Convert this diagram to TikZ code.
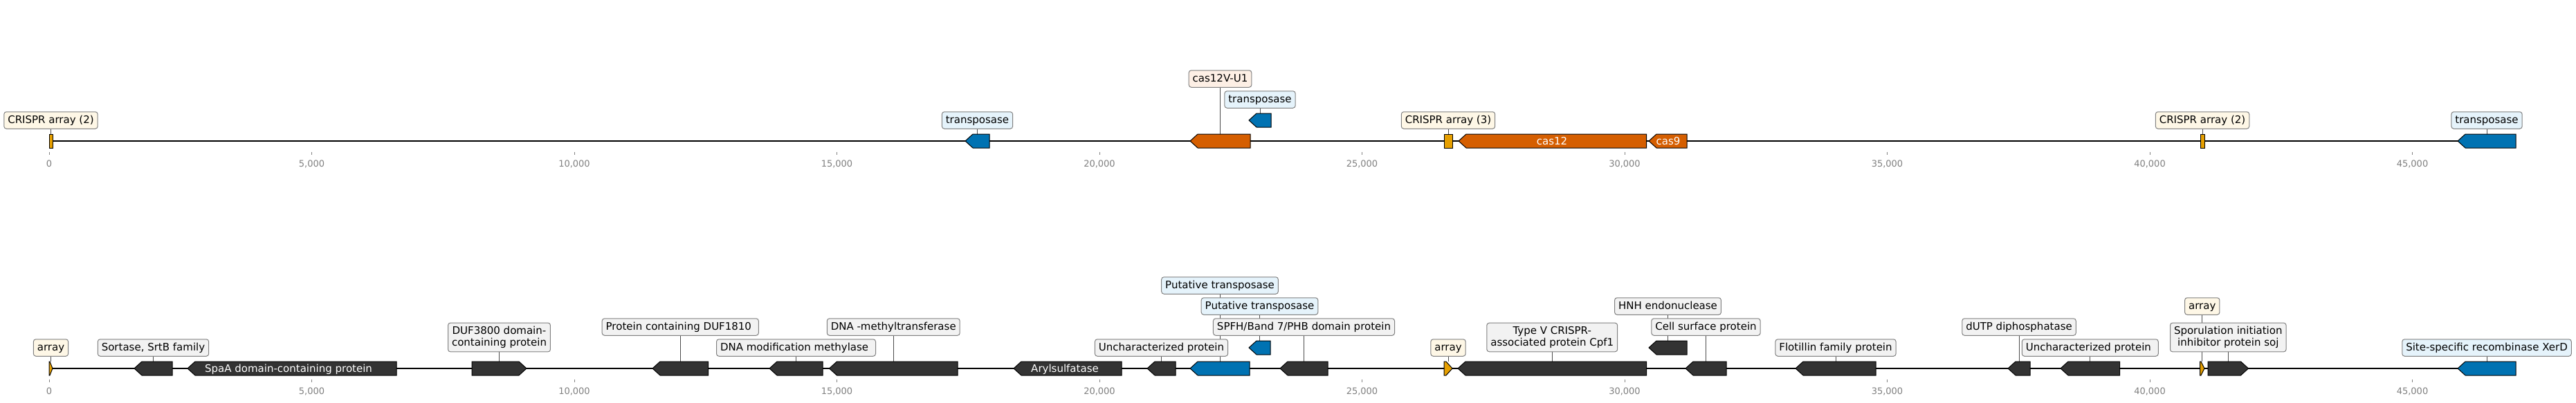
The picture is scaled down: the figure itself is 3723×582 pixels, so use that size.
\documentclass[tikz,border=0pt]{standalone}
\usepackage{fontspec}
\setmainfont{DejaVu Sans}
\usetikzlibrary{backgrounds}

\definecolor{crispr}{HTML}{E69F00}
\definecolor{casred}{HTML}{D55E00}
\definecolor{tnpblue}{HTML}{0072B2}
\definecolor{cds}{HTML}{333333}
\definecolor{crisprbg}{HTML}{FEF7E6}
\definecolor{casbg}{HTML}{FDEFE5}
\definecolor{tnpbg}{HTML}{E5F3FB}
\definecolor{cdsbg}{HTML}{F2F2F2}
\definecolor{tickgray}{HTML}{808080}

\newcommand{\lsp}{\hspace{4.8pt}}

\tikzset{
  lblbase/.style={draw=black!50, line width=1pt, rounded corners=3.5pt, inner xsep=5.5pt,
    font=\fontsize{15}{16.7}\selectfont, anchor=center},
  lbl/.style={lblbase, inner ysep=5pt, text height=12.2pt, text depth=2.3pt},
  lbltwo/.style={lblbase, inner ysep=5.3pt, align=center},
  lead/.style={black!70, line width=0.9pt},
  gene/.style={draw=black, line width=1pt, line join=miter},
  genetext/.style={white, font=\fontsize{15}{17}\selectfont, anchor=base, inner sep=0pt},
  tickmark/.style={tickgray, line width=1pt},
  ticktext/.style={tickgray, font=\fontsize{13}{15}\selectfont, anchor=base, inner sep=0pt}
}

\begin{document}
\begin{tikzpicture}[x=1pt,y=1pt,yscale=-1,xscale=1]
\useasboundingbox (0,0) rectangle (3723,582);
\begin{pgfonlayer}{background}
\fill[white] (0,0) rectangle (3723,582);
\end{pgfonlayer}

%%%%%%%%%%%%%%%% top record %%%%%%%%%%%%%%%%
%Straight Lines [id:axis top]
\draw [line width=2.4pt]   (71,204) -- (3636,204) ;

%Shape: CRISPR array (2)
\draw [gene, fill=crispr]  (71,194) -- (76,194) -- (76,214) -- (71,214) -- cycle ;
%Shape: transposase
\draw [gene, fill=tnpblue]  (1395,204) -- (1406,194) -- (1430,194) -- (1430,214) -- (1406,214) -- cycle ;
%Shape: cas12V-U1
\draw [gene, fill=casred]  (1720,204) -- (1731,194) -- (1807,194) -- (1807,214) -- (1731,214) -- cycle ;
%Shape: transposase (raised)
\draw [gene, fill=tnpblue]  (1805,174) -- (1816,164) -- (1837,164) -- (1837,184) -- (1816,184) -- cycle ;
%Shape: CRISPR array (3)
\draw [gene, fill=crispr]  (2087,194) -- (2099,194) -- (2099,214) -- (2087,214) -- cycle ;
%Shape: cas12
\draw [gene, fill=casred]  (2108,204) -- (2119,194) -- (2379.5,194) -- (2379.5,214) -- (2119,214) -- cycle ;
%Shape: cas9
\draw [gene, fill=casred]  (2383,204) -- (2394,194) -- (2438,194) -- (2438,214) -- (2394,214) -- cycle ;
%Shape: CRISPR array (2)
\draw [gene, fill=crispr]  (3180,194) -- (3186,194) -- (3186,214) -- (3180,214) -- cycle ;
%Shape: transposase
\draw [gene, fill=tnpblue]  (3552,204) -- (3563,194) -- (3636,194) -- (3636,214) -- (3563,214) -- cycle ;

% Text Node
\draw (2243,209.5) node [genetext] (cas12txt) {cas12};
% Text Node
\draw (2411,209.5) node [genetext] (cas9txt) {cas9};

% feature tops
\coordinate (g1) at (73.5,194);
\coordinate (g2) at (1412.5,194);
\coordinate (g3) at (1763.5,194);
\coordinate (g4) at (1821,164);
\coordinate (g5) at (2093,194);
\coordinate (g8) at (3183,194);
\coordinate (g9) at (3594,194);

% Text Node
\draw (73.5,174) node [lbl, fill=crisprbg] (t1) {CRISPR array (2)};
% Text Node
\draw (1412.5,174) node [lbl, fill=tnpbg] (t2) {transposase};
% Text Node
\draw (1763.5,114) node [lbl, fill=casbg] (t3) {cas12V-U1};
% Text Node
\draw (1821,144) node [lbl, fill=tnpbg] (t4) {transposase};
% Text Node
\draw (2093,174) node [lbl, fill=crisprbg] (t5) {CRISPR array (3)};
% Text Node
\draw (3183,174) node [lbl, fill=crisprbg] (t8) {CRISPR array (2)};
% Text Node
\draw (3594,174) node [lbl, fill=tnpbg] (t9) {transposase};

\begin{pgfonlayer}{background}
\draw [lead] (t1.south) -- (g1) ;
\draw [lead] (t2.south) -- (g2) ;
\draw [lead] (t3.south) -- (g3) ;
\draw [lead] (t4.south) -- (g4) ;
\draw [lead] (t5.south) -- (g5) ;
\draw [lead] (t8.south) -- (g8) ;
\draw [lead] (t9.south) -- (g9) ;
\end{pgfonlayer}

%Straight Lines [id:ticks top]
\draw [tickmark]   (71,220) -- (71,224) ;
\draw [tickmark]   (450.5,220) -- (450.5,224) ;
\draw [tickmark]   (830,220) -- (830,224) ;
\draw [tickmark]   (1209.5,220) -- (1209.5,224) ;
\draw [tickmark]   (1589,220) -- (1589,224) ;
\draw [tickmark]   (1968.5,220) -- (1968.5,224) ;
\draw [tickmark]   (2348,220) -- (2348,224) ;
\draw [tickmark]   (2727.5,220) -- (2727.5,224) ;
\draw [tickmark]   (3107,220) -- (3107,224) ;
\draw [tickmark]   (3486.5,220) -- (3486.5,224) ;
% Text Node
\draw (71,241.5) node [ticktext] (ta0) {0};
\draw (450.5,241.5) node [ticktext] (ta1) {5,000};
\draw (830,241.5) node [ticktext] (ta2) {10,000};
\draw (1209.5,241.5) node [ticktext] (ta3) {15,000};
\draw (1589,241.5) node [ticktext] (ta4) {20,000};
\draw (1968.5,241.5) node [ticktext] (ta5) {25,000};
\draw (2348,241.5) node [ticktext] (ta6) {30,000};
\draw (2727.5,241.5) node [ticktext] (ta7) {35,000};
\draw (3107,241.5) node [ticktext] (ta8) {40,000};
\draw (3486.5,241.5) node [ticktext] (ta9) {45,000};

%%%%%%%%%%%%%%%% bottom record %%%%%%%%%%%%%%%%
%Straight Lines [id:axis bottom]
\draw [line width=2.4pt]   (71,533) -- (3636,533) ;

%Shape: array
\draw [gene, fill=crispr]  (71,523) -- (72,523) -- (76,533) -- (72,543) -- (71,543) -- cycle ;
%Shape: Sortase
\draw [gene, fill=cds]  (194,533) -- (205,523) -- (249,523) -- (249,543) -- (205,543) -- cycle ;
%Shape: SpaA
\draw [gene, fill=cds]  (271,533) -- (282,523) -- (573,523) -- (573,543) -- (282,543) -- cycle ;
%Shape: DUF3800
\draw [gene, fill=cds]  (682,523) -- (750,523) -- (761,533) -- (750,543) -- (682,543) -- cycle ;
%Shape: DUF1810
\draw [gene, fill=cds]  (943,533) -- (954,523) -- (1023.5,523) -- (1023.5,543) -- (954,543) -- cycle ;
%Shape: DNA modification methylase
\draw [gene, fill=cds]  (1112,533) -- (1123,523) -- (1189,523) -- (1189,543) -- (1123,543) -- cycle ;
%Shape: DNA methyltransferase
\draw [gene, fill=cds]  (1198.5,533) -- (1209.5,523) -- (1384,523) -- (1384,543) -- (1209.5,543) -- cycle ;
%Shape: Arylsulfatase
\draw [gene, fill=cds]  (1465,533) -- (1476,523) -- (1621,523) -- (1621,543) -- (1476,543) -- cycle ;
%Shape: Uncharacterized protein
\draw [gene, fill=cds]  (1658,533) -- (1669,523) -- (1699,523) -- (1699,543) -- (1669,543) -- cycle ;
%Shape: Putative transposase
\draw [gene, fill=tnpblue]  (1720,533) -- (1731,523) -- (1806,523) -- (1806,543) -- (1731,543) -- cycle ;
%Shape: Putative transposase (raised)
\draw [gene, fill=tnpblue]  (1805,503) -- (1816,493) -- (1836,493) -- (1836,513) -- (1816,513) -- cycle ;
%Shape: SPFH
\draw [gene, fill=cds]  (1850,533) -- (1861,523) -- (1919,523) -- (1919,543) -- (1861,543) -- cycle ;
%Shape: array
\draw [gene, fill=crispr]  (2087,523) -- (2090,523) -- (2099,533) -- (2090,543) -- (2087,543) -- cycle ;
%Shape: Cpf1
\draw [gene, fill=cds]  (2107,533) -- (2118,523) -- (2379.5,523) -- (2379.5,543) -- (2118,543) -- cycle ;
%Shape: HNH endonuclease (raised)
\draw [gene, fill=cds]  (2383,503) -- (2394,493) -- (2438,493) -- (2438,513) -- (2394,513) -- cycle ;
%Shape: Cell surface protein
\draw [gene, fill=cds]  (2436,533) -- (2447,523) -- (2495,523) -- (2495,543) -- (2447,543) -- cycle ;
%Shape: Flotillin
\draw [gene, fill=cds]  (2595,533) -- (2606,523) -- (2711,523) -- (2711,543) -- (2606,543) -- cycle ;
%Shape: dUTP diphosphatase
\draw [gene, fill=cds]  (2902,533) -- (2913,523) -- (2934,523) -- (2934,543) -- (2913,543) -- cycle ;
%Shape: Uncharacterized protein
\draw [gene, fill=cds]  (2978,533) -- (2989,523) -- (3063.5,523) -- (3063.5,543) -- (2989,543) -- cycle ;
%Shape: array
\draw [gene, fill=crispr]  (3179.5,523) -- (3181,523) -- (3186,533) -- (3181,543) -- (3179.5,543) -- cycle ;
%Shape: soj
\draw [gene, fill=cds]  (3191,523) -- (3238.5,523) -- (3249.5,533) -- (3238.5,543) -- (3191,543) -- cycle ;
%Shape: XerD
\draw [gene, fill=tnpblue]  (3552,533) -- (3563,523) -- (3636,523) -- (3636,543) -- (3563,543) -- cycle ;

% Text Node
\draw (417,538.5) node [genetext] (spaatxt) {SpaA domain-containing protein};
% Text Node
\draw (1539,538.5) node [genetext] (arytxt) {Arylsulfatase};

% feature tops
\coordinate (f1) at (73.5,523);
\coordinate (f2) at (221.5,523);
\coordinate (f4) at (721.5,523);
\coordinate (f5) at (983.25,523);
\coordinate (f6) at (1150.5,523);
\coordinate (f7) at (1291.25,523);
\coordinate (f9) at (1678.5,523);
\coordinate (f10) at (1763,523);
\coordinate (f11) at (1820.5,493);
\coordinate (f12) at (1884.5,523);
\coordinate (f13) at (2093,523);
\coordinate (f14) at (2243.25,523);
\coordinate (f15) at (2410.5,493);
\coordinate (f16) at (2465.5,523);
\coordinate (f17) at (2653,523);
\coordinate (f18) at (2918,523);
\coordinate (f19) at (3020.75,523);
\coordinate (f20) at (3182.75,523);
\coordinate (f21) at (3220.25,523);
\coordinate (f22) at (3594,523);

% Text Node
\draw (73.5,503) node [lbl, fill=crisprbg] (b1) {array};
% Text Node
\draw (221.5,503) node [lbl, fill=cdsbg] (b2) {Sortase, SrtB family\lsp};
% Text Node
\draw (721.5,488) node [lbltwo, fill=cdsbg] (b4) {DUF3800 domain-\\containing protein};
% Text Node
\draw (983.25,473) node [lbl, fill=cdsbg] (b5) {Protein containing DUF1810\lsp\lsp};
% Text Node
\draw (1150.5,503) node [lbl, fill=cdsbg] (b6) {DNA modification methylase\lsp\lsp};
% Text Node
\draw (1291.25,473) node [lbl, fill=cdsbg] (b7) {DNA -methyltransferase\lsp};
% Text Node
\draw (1678.5,503) node [lbl, fill=cdsbg] (b9) {Uncharacterized protein\lsp};
% Text Node
\draw (1763,413) node [lbl, fill=tnpbg] (b10) {Putative transposase\lsp};
% Text Node
\draw (1820.5,443) node [lbl, fill=tnpbg] (b11) {Putative transposase\lsp};
% Text Node
\draw (1884.5,473) node [lbl, fill=cdsbg] (b12) {SPFH/Band 7/PHB domain protein};
% Text Node
\draw (2093,503) node [lbl, fill=crisprbg] (b13) {array};
% Text Node
\draw (2243.25,488) node [lbltwo, fill=cdsbg] (b14) {Type V CRISPR-\\associated protein Cpf1};
% Text Node
\draw (2410.5,443) node [lbl, fill=cdsbg] (b15) {HNH endonuclease\lsp};
% Text Node
\draw (2465.5,473) node [lbl, fill=cdsbg] (b16) {Cell surface protein\lsp};
% Text Node
\draw (2653,503) node [lbl, fill=cdsbg] (b17) {Flotillin family protein\lsp};
% Text Node
\draw (2918,473) node [lbl, fill=cdsbg] (b18) {dUTP diphosphatase\lsp};
% Text Node
\draw (3020.75,503) node [lbl, fill=cdsbg] (b19) {Uncharacterized protein\lsp\lsp};
% Text Node
\draw (3182.75,443) node [lbl, fill=crisprbg] (b20) {array};
% Text Node
\draw (3220.25,488) node [lbltwo, fill=cdsbg] (b21) {Sporulation initiation\\inhibitor protein soj};
% Text Node
\draw (3594,503) node [lbl, fill=tnpbg] (b22) {Site-specific recombinase XerD};

\begin{pgfonlayer}{background}
\draw [lead] (b1.south) -- (f1) ;
\draw [lead] (b2.south) -- (f2) ;
\draw [lead] (b4.south) -- (f4) ;
\draw [lead] (b5.south) -- (f5) ;
\draw [lead] (b6.south) -- (f6) ;
\draw [lead] (b7.south) -- (f7) ;
\draw [lead] (b9.south) -- (f9) ;
\draw [lead] (b10.south) -- (f10) ;
\draw [lead] (b11.south) -- (f11) ;
\draw [lead] (b12.south) -- (f12) ;
\draw [lead] (b13.south) -- (f13) ;
\draw [lead] (b14.south) -- (f14) ;
\draw [lead] (b15.south) -- (f15) ;
\draw [lead] (b16.south) -- (f16) ;
\draw [lead] (b17.south) -- (f17) ;
\draw [lead] (b18.south) -- (f18) ;
\draw [lead] (b19.south) -- (f19) ;
\draw [lead] (b20.south) -- (f20) ;
\draw [lead] (b21.south) -- (f21) ;
\draw [lead] (b22.south) -- (f22) ;
\end{pgfonlayer}

%Straight Lines [id:ticks bottom]
\draw [tickmark]   (71,549) -- (71,553) ;
\draw [tickmark]   (450.5,549) -- (450.5,553) ;
\draw [tickmark]   (830,549) -- (830,553) ;
\draw [tickmark]   (1209.5,549) -- (1209.5,553) ;
\draw [tickmark]   (1589,549) -- (1589,553) ;
\draw [tickmark]   (1968.5,549) -- (1968.5,553) ;
\draw [tickmark]   (2348,549) -- (2348,553) ;
\draw [tickmark]   (2727.5,549) -- (2727.5,553) ;
\draw [tickmark]   (3107,549) -- (3107,553) ;
\draw [tickmark]   (3486.5,549) -- (3486.5,553) ;
% Text Node
\draw (71,570) node [ticktext] (tb0) {0};
\draw (450.5,570) node [ticktext] (tb1) {5,000};
\draw (830,570) node [ticktext] (tb2) {10,000};
\draw (1209.5,570) node [ticktext] (tb3) {15,000};
\draw (1589,570) node [ticktext] (tb4) {20,000};
\draw (1968.5,570) node [ticktext] (tb5) {25,000};
\draw (2348,570) node [ticktext] (tb6) {30,000};
\draw (2727.5,570) node [ticktext] (tb7) {35,000};
\draw (3107,570) node [ticktext] (tb8) {40,000};
\draw (3486.5,570) node [ticktext] (tb9) {45,000};
\end{tikzpicture}
\end{document}
